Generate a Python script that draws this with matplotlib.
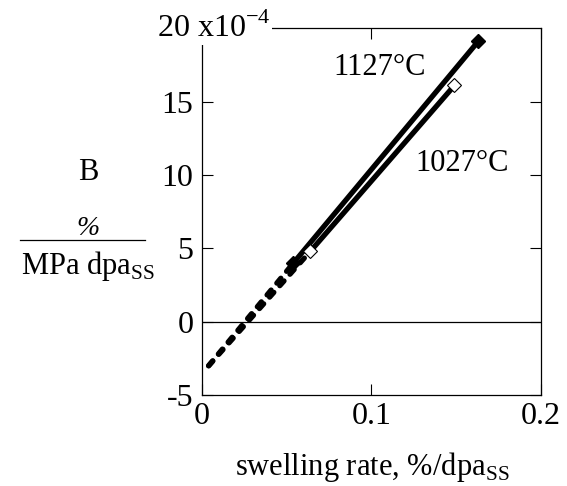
import matplotlib
matplotlib.use("Agg")
import matplotlib.pyplot as plt

plt.rcParams['font.family'] = ['Liberation Serif', 'DejaVu Serif']
plt.rcParams['mathtext.fontset'] = 'custom'
plt.rcParams['mathtext.rm'] = 'Liberation Serif'

# data (B in units of 1e-4)
x_1127 = [0.054, 0.163]
y_1127 = [4.0, 19.1]
x_1127_ext = [0.004, 0.054]
y_1127_ext = [-3.0, 4.0]

x_1027 = [0.064, 0.149]
y_1027 = [4.8, 16.1]
x_1027_ext = [0.004, 0.064]
y_1027_ext = [-3.0, 4.8]

xticks = [0, 0.1, 0.2]
xtick_labels = ["0", "0.1", "0.2"]
yticks = [-5, 0, 5, 10, 15]
ytick_labels = ["-5", "0", "5", "10", "15"]

fig = plt.figure(figsize=(5.67, 4.86), dpi=100)
ax = fig.add_axes([0.356, 0.187, 0.598, 0.755])
ax.set_xlim(0, 0.2)
ax.set_ylim(-5, 20)

ax.axhline(0, color='black', lw=0.9, zorder=1)

dash = (0, (1.2, 1.7))
ax.plot(x_1127_ext, y_1127_ext, color='black', lw=3.8, ls=dash, dash_capstyle='round', zorder=3)
ax.plot(x_1027_ext, y_1027_ext, color='black', lw=3.8, ls=dash, dash_capstyle='round', zorder=3)
ax.plot(x_1127, y_1127, color='black', lw=3.8, zorder=3)
ax.plot(x_1027, y_1027, color='black', lw=3.8, zorder=3)
ax.plot(x_1127, y_1127, ls='none', marker='D', ms=7, mfc='black', mec='black', zorder=4)
ax.plot(x_1027, y_1027, ls='none', marker='D', ms=7, mfc='white', mec='black', mew=0.8, zorder=4)

ax.text(0.105, 17.3, "1127°C", fontsize=22, ha='center', va='center')
ax.text(0.1535, 10.75, "1027°C", fontsize=22, ha='center', va='center')

ax.set_xticks(xticks)
ax.set_xticklabels(xtick_labels, fontsize=23)
ax.set_yticks(yticks)
ax.set_yticklabels(ytick_labels, fontsize=23)
ax.tick_params(direction='in', length=8, width=0.8, top=True, right=True, pad=6)
ax.tick_params(axis='x', pad=5)
for s in ax.spines.values():
    s.set_linewidth(0.9)

# top label "20 x10^-4"
fig.text(0.277, 0.942, r"20 x10$^{-4}$", fontsize=23, ha='left', va='center',
         bbox=dict(facecolor='white', edgecolor='none', pad=1), zorder=10)

# y label
fig.text(0.155, 0.646, "B", fontsize=22, ha='center', va='center')
fig.text(0.155, 0.53, "%", fontsize=20, ha='center', va='center', style='italic')
fig.add_artist(plt.Line2D([0.035, 0.256], [0.507, 0.507], color='black', lw=0.9))
fig.text(0.155, 0.452, r"MPa dpa$_{\rm SS}$", fontsize=22, ha='center', va='center')

# x label
fig.text(0.656, 0.04, r"swelling rate, %/dpa$_{\rm SS}$", fontsize=22, ha='center', va='center')

fig.savefig("out.png", dpi=100)
